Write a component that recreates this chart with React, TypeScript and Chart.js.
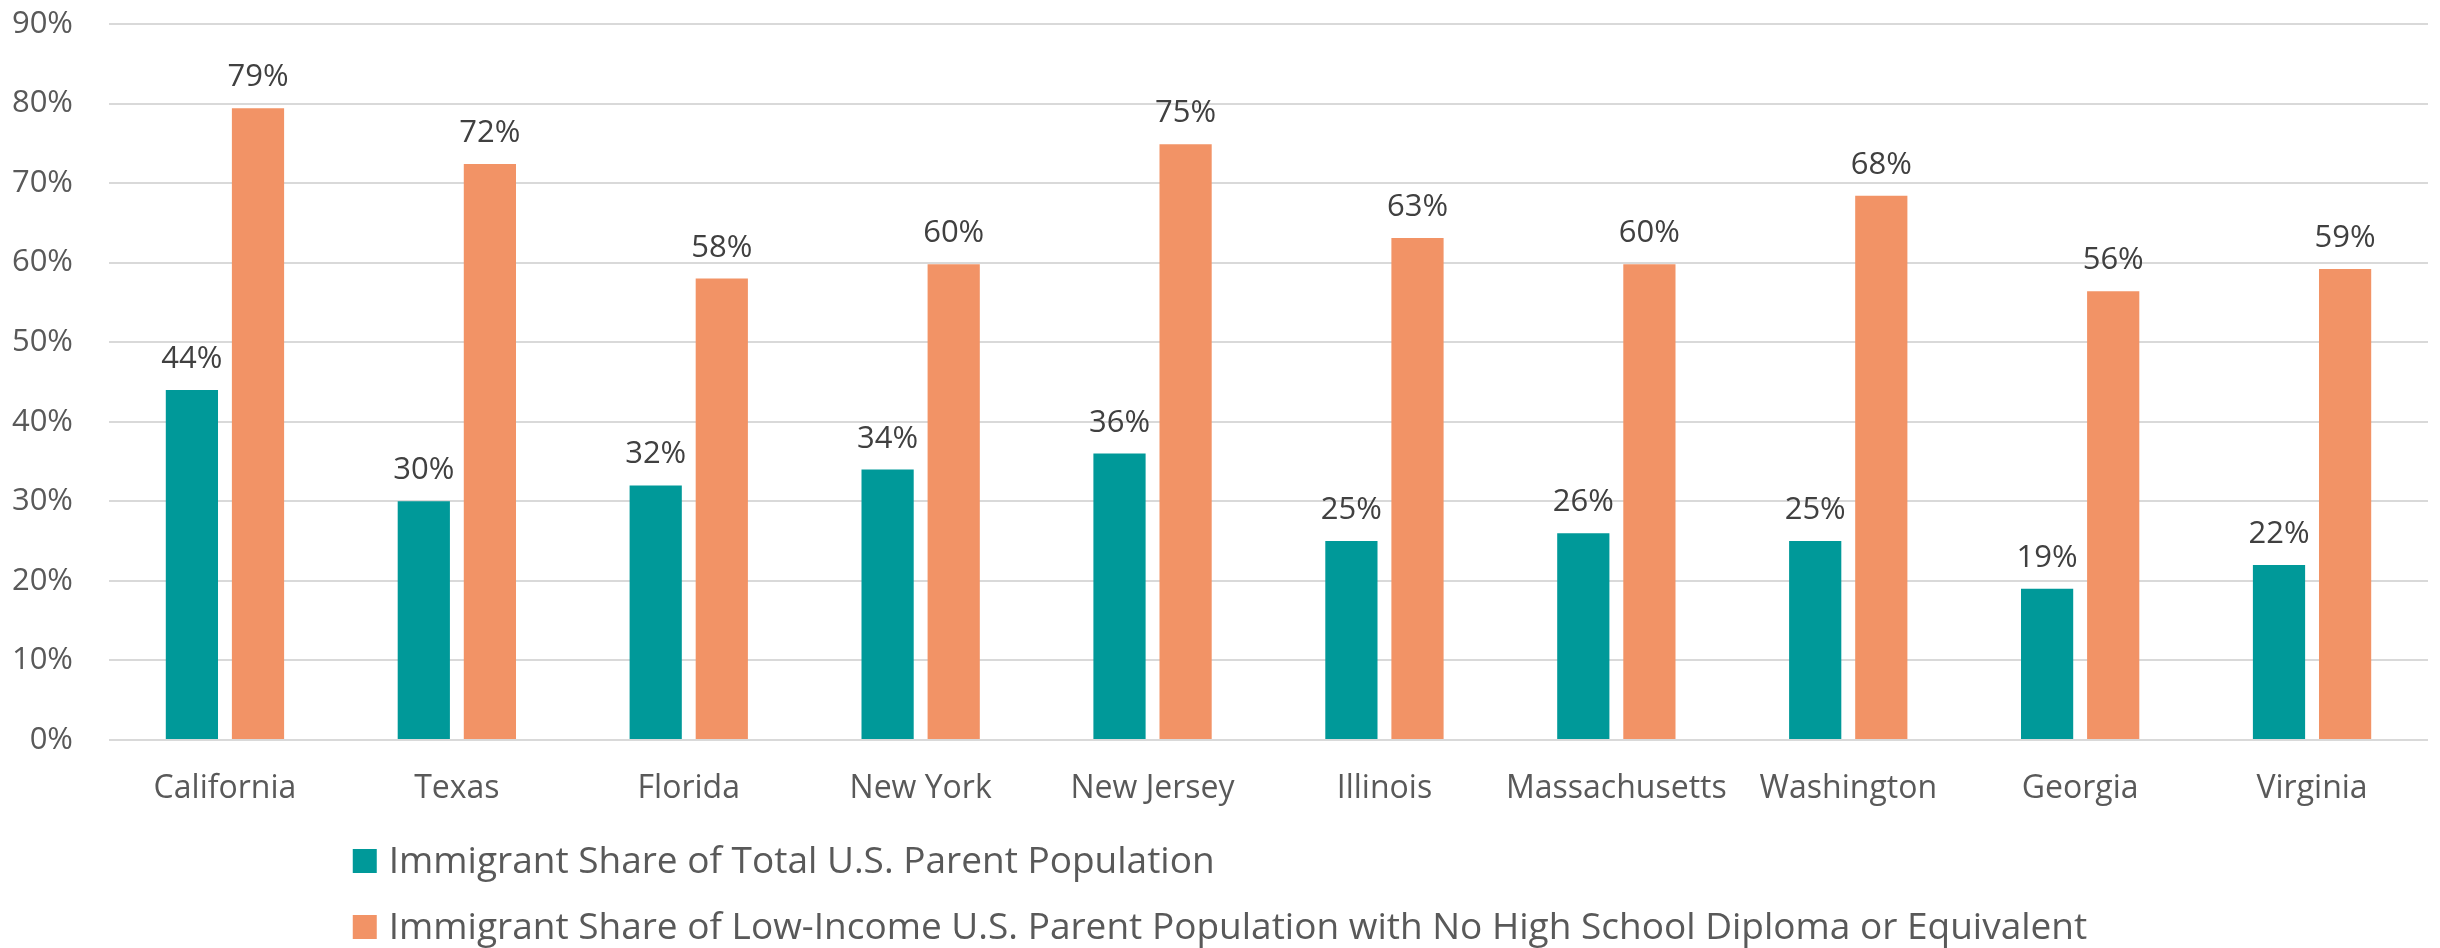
import React, { useEffect, useRef } from "react";
import { Chart, registerables } from "chart.js";

Chart.register(...registerables);

const states = [
  "California",
  "Texas",
  "Florida",
  "New York",
  "New Jersey",
  "Illinois",
  "Massachusetts",
  "Washington",
  "Georgia",
  "Virginia",
];

const totalParentShare = [44, 30, 32, 34, 36, 25, 26, 25, 19, 22];
const lowIncomeNoDiplomaShare = [79.4, 72.4, 58.0, 59.8, 74.9, 63.1, 59.8, 68.4, 56.4, 59.2];

const seriesLabels = [
  "Immigrant Share of Total U.S. Parent Population",
  "Immigrant Share of Low-Income U.S. Parent Population with No High School Diploma or Equivalent",
];
const seriesColors = ["#009999", "#F29366"];

const yMin = 0;
const yMax = 90;
const yStep = 10;

const FONT = "'Open Sans', 'DejaVu Sans', sans-serif";

const valueLabelPlugin = {
  id: "valueLabels",
  afterDatasetsDraw(chart: any) {
    const ctx = chart.ctx;
    ctx.save();
    ctx.font = `31px ${FONT}`;
    ctx.fillStyle = "#404040";
    ctx.textAlign = "center";
    ctx.textBaseline = "alphabetic";
    chart.data.datasets.forEach((ds: any, i: number) => {
      const meta = chart.getDatasetMeta(i);
      meta.data.forEach((bar: any, j: number) => {
        const text = Math.round(ds.data[j]) + "%";
        ctx.fillText(text, bar.x, bar.y - 22);
      });
    });
    ctx.restore();
  },
};

const stackedLegendPlugin = {
  id: "stackedLegend",
  afterDraw(chart: any) {
    const ctx = chart.ctx;
    ctx.save();
    ctx.font = `37px ${FONT}`;
    const box = 24;
    const gap = 12;
    const widths = chart.data.datasets.map((ds: any) => ctx.measureText(ds.label).width);
    const blockW = box + gap + Math.max(...widths);
    const x0 = (chart.width - blockW) / 2;
    const rowYs = [chart.height - 87, chart.height - 21];
    chart.data.datasets.forEach((ds: any, i: number) => {
      const cy = rowYs[i];
      ctx.fillStyle = ds.backgroundColor;
      ctx.fillRect(x0, cy - box / 2, box, box);
      ctx.fillStyle = "#595959";
      ctx.textAlign = "left";
      ctx.textBaseline = "middle";
      ctx.fillText(ds.label, x0 + box + gap, cy + 1);
    });
    ctx.restore();
  },
};

export default function App() {
  const canvasRef = useRef<HTMLCanvasElement | null>(null);

  useEffect(() => {
    document.body.style.margin = "0";
    const canvas = canvasRef.current;
    if (!canvas) return;
    const chart = new Chart(canvas, {
      type: "bar",
      data: {
        labels: states,
        datasets: [
          {
            label: seriesLabels[0],
            data: totalParentShare,
            backgroundColor: seriesColors[0],
            categoryPercentage: 0.57,
            barPercentage: 0.79,
          },
          {
            label: seriesLabels[1],
            data: lowIncomeNoDiplomaShare,
            backgroundColor: seriesColors[1],
            categoryPercentage: 0.57,
            barPercentage: 0.79,
          },
        ],
      },
      options: {
        responsive: false,
        animation: false,
        layout: { padding: { top: 24, right: 12, bottom: 128, left: 0 } },
        plugins: {
          legend: { display: false },
          tooltip: { enabled: false },
        },
        scales: {
          x: {
            grid: { display: false },
            border: { display: false },
            ticks: {
              color: "#595959",
              font: { family: FONT, size: 32 },
              padding: 22,
              maxRotation: 0,
              autoSkip: false,
            },
            afterFit(scale: any) {
              scale.height = 80;
              scale.paddingLeft = 0;
              scale.paddingRight = 0;
            },
          },
          y: {
            min: yMin,
            max: yMax,
            grid: { color: "#d9d9d9", lineWidth: 2, drawTicks: false },
            border: { display: false },
            ticks: {
              stepSize: yStep,
              color: "#595959",
              font: { family: FONT, size: 31 },
              padding: 36,
              callback: (v: any) => v + "%",
            },
            afterFit(scale: any) {
              scale.width = 109;
              scale.paddingTop = 0;
              scale.paddingBottom = 0;
            },
          },
        },
      },
      plugins: [valueLabelPlugin, stackedLegendPlugin],
    });
    return () => chart.destroy();
  }, []);

  return (
    <div style={{ width: 2440, height: 948 }}>
      <canvas ref={canvasRef} width={2440} height={948} style={{ display: "block" }} />
    </div>
  );
}
